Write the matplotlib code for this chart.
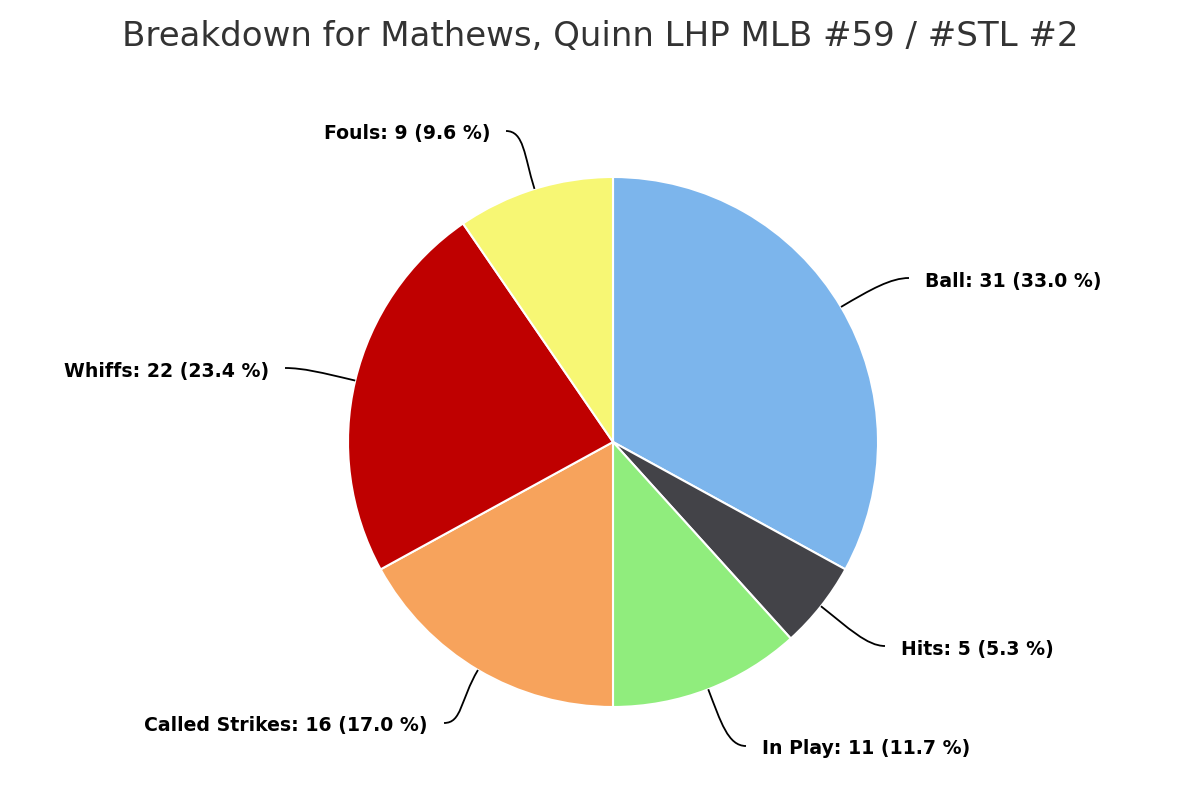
import matplotlib.pyplot as plt
from matplotlib.path import Path
from matplotlib.patches import PathPatch
import numpy as np

# data
categories = ["Ball", "Hits", "In Play", "Called Strikes", "Whiffs", "Fouls"]
counts = [31, 5, 11, 16, 22, 9]
colors = ["#7cb5ec", "#434348", "#90ed7d", "#f7a35c", "#bf0000", "#f7f774"]
title = "Breakdown for Mathews, Quinn LHP MLB #59 / #STL #2"

# layout in pixels (y measured from bottom)
W, H = 1200, 800
cx, cy, R = 613, 358, 265
# label anchor: (x, y, side) side=+1 text to the right, -1 text to the left
label_pos = [
    (925, 800 - 281, 1),
    (901, 800 - 649, 1),
    (762, 800 - 749, 1),
    (428, 800 - 726, -1),
    (269, 800 - 371, -1),
    (490, 800 - 134, -1),
]

fig = plt.figure(figsize=(12, 8), dpi=100)
ax = fig.add_axes([0, 0, 1, 1])

wedges, _ = ax.pie(counts, colors=colors, startangle=90, counterclock=False,
                   center=(cx, cy), radius=R, frame=True,
                   wedgeprops=dict(edgecolor="white", linewidth=1.5))
ax.set_xlim(0, W)
ax.set_ylim(0, H)
ax.set_aspect("equal")
ax.axis("off")

total = sum(counts)
for w, name, n, (lx, ly, side) in zip(wedges, categories, counts, label_pos):
    mid = np.deg2rad((w.theta1 + w.theta2) / 2)
    ux, uy = np.cos(mid), np.sin(mid)
    p0 = (cx + R * ux, cy + R * uy)
    p1 = (cx + (R + 35) * ux, cy + (R + 35) * uy)
    end = (lx - side * 16, ly + 3)
    p2 = (end[0] - side * 18, end[1])
    path = Path([p0, p1, p2, end], [Path.MOVETO, Path.CURVE4, Path.CURVE4, Path.CURVE4])
    ax.add_patch(PathPatch(path, facecolor="none", edgecolor="black", linewidth=1.3))
    pct = 100.0 * n / total
    ax.text(lx, ly, f"{name}: {n} ({pct:.1f} %)", ha="left" if side > 0 else "right",
            va="center", fontsize=13.6, fontweight="bold", color="black")

ax.text(600, 800 - 37, title, ha="center", va="center", fontsize=24.5, color="#333333")

fig.savefig("out.png", dpi=100, facecolor="white")
